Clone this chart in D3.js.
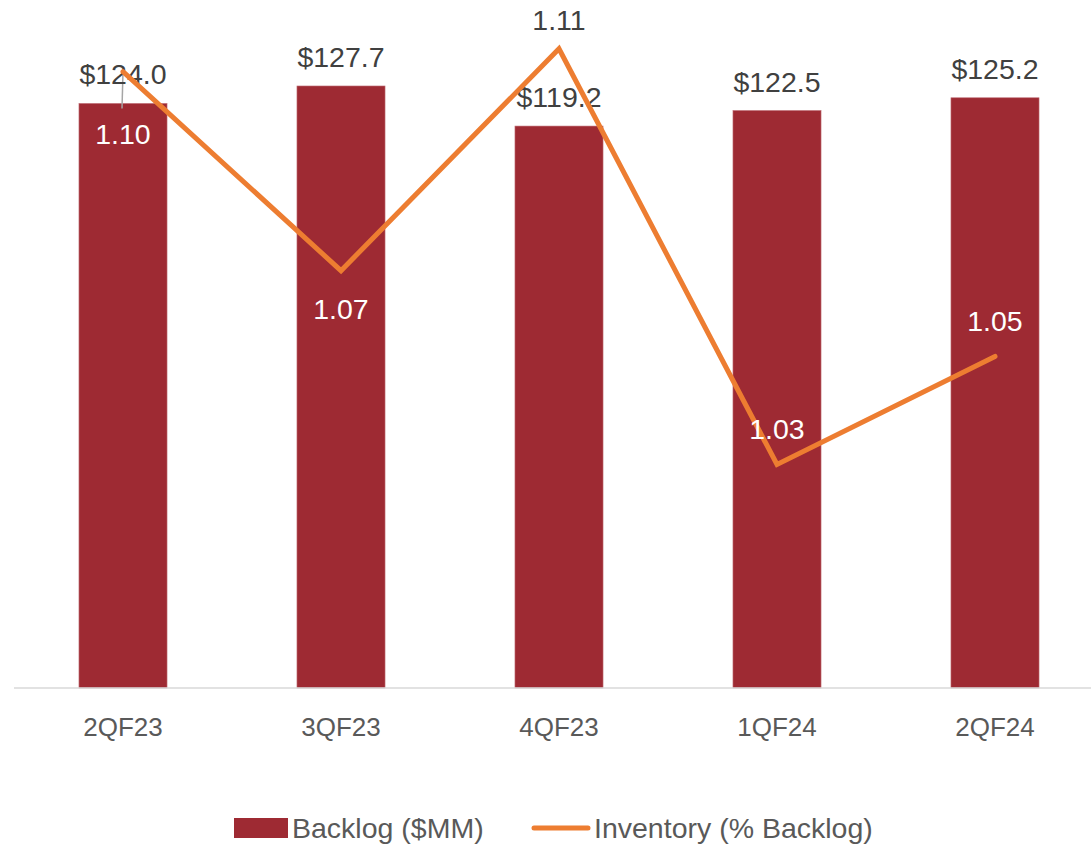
<!DOCTYPE html>
<html>
<head>
<meta charset="utf-8">
<script src="https://cdn.jsdelivr.net/npm/d3@7"></script>
<style>
  html, body { margin: 0; padding: 0; background: #fff; }
  svg { display: block; font-family: 'Liberation Sans', Arial, sans-serif; }
</style>
</head>
<body>
<div id="chart"></div>
<script>
const quarters = ['2QF23', '3QF23', '4QF23', '1QF24', '2QF24']
const backlog = [124.0, 127.7, 119.2, 122.5, 125.2]
const inventory = [1.1036, 1.0653, 1.108, 1.028, 1.0488]

const width = 1091
const height = 845
const baseY = 688
const topY = 28

const barColor = '#9E2A33'
const lineColor = '#ED7D31'

const svg = d3
  .select('#chart')
  .append('svg')
  .attr('width', width)
  .attr('height', height)
  .attr('viewBox', [0, 0, width, height])

const x = d3
  .scaleBand()
  .domain(quarters)
  .range([14, 1104])
  .paddingInner(0.596)
  .paddingOuter(0.298)

const y = d3.scaleLinear().domain([0, 140]).range([baseY, topY])
const y2 = d3.scaleLinear().domain([0.985, 1.112]).range([baseY, topY])

const cx = (q) => x(q) + x.bandwidth() / 2

// bars
svg
  .append('g')
  .selectAll()
  .data(quarters)
  .join('rect')
  .attr('x', (d) => x(d))
  .attr('y', (d, i) => y(backlog[i]))
  .attr('width', x.bandwidth())
  .attr('height', (d, i) => baseY - y(backlog[i]))
  .attr('fill', barColor)
  .attr('stroke', '#c07078')
  .attr('stroke-width', 0.6)

// x axis
const xAxis = svg
  .append('g')
  .attr('transform', `translate(0,${baseY})`)
  .call(d3.axisBottom(x).tickSize(0).tickPadding(30).tickSizeOuter(0))
xAxis.select('.domain').attr('stroke', '#d9d9d9').attr('stroke-width', 1.5).attr('d', 'M14,0H1091')
xAxis
  .selectAll('.tick text')
  .attr('font-size', 26)
  .attr('fill', '#595959')
  .attr('font-family', "'Liberation Sans', Arial, sans-serif")

// leader line for first bar label
svg
  .append('line')
  .attr('x1', cx(quarters[0]))
  .attr('x2', cx(quarters[0]) - 1)
  .attr('y1', y(backlog[0]) - 32)
  .attr('y2', y(backlog[0]) + 5)
  .attr('stroke', '#a6a6a6')
  .attr('stroke-width', 1.5)

// bar value labels
svg
  .append('g')
  .selectAll()
  .data(quarters)
  .join('text')
  .attr('x', (d) => cx(d))
  .attr('y', (d, i) => y(backlog[i]) - 19)
  .attr('text-anchor', 'middle')
  .attr('font-size', 28.5)
  .attr('fill', '#404040')
  .text((d, i) => '$' + backlog[i].toFixed(1))

// inventory line
const line = d3
  .line()
  .x((d, i) => cx(quarters[i]))
  .y((d) => y2(d))

svg
  .append('path')
  .datum(inventory)
  .attr('d', line)
  .attr('fill', 'none')
  .attr('stroke', lineColor)
  .attr('stroke-width', 5)
  .attr('stroke-linejoin', 'miter')
  .attr('stroke-linecap', 'round')

// line labels
const labelDy = [72, 48, -19, -26, -25]
svg
  .append('g')
  .selectAll()
  .data(inventory)
  .join('text')
  .attr('x', (d, i) => cx(quarters[i]))
  .attr('y', (d, i) => y2(d) + labelDy[i])
  .attr('text-anchor', 'middle')
  .attr('font-size', 28.5)
  .attr('fill', (d, i) => (i === 2 ? '#404040' : '#ffffff'))
  .text((d) => d.toFixed(2))

// legend
const legend = svg.append('g').attr('font-size', 28.5).attr('fill', '#595959')
legend
  .append('rect')
  .attr('x', 234)
  .attr('y', 818)
  .attr('width', 54)
  .attr('height', 20)
  .attr('fill', barColor)
legend.append('text').attr('x', 292).attr('y', 838).text('Backlog ($MM)')
legend
  .append('line')
  .attr('x1', 534)
  .attr('x2', 588)
  .attr('y1', 828)
  .attr('y2', 828)
  .attr('stroke', lineColor)
  .attr('stroke-width', 5)
  .attr('stroke-linecap', 'round')
legend.append('text').attr('x', 594).attr('y', 838).text('Inventory (% Backlog)')
</script>
</body>
</html>
